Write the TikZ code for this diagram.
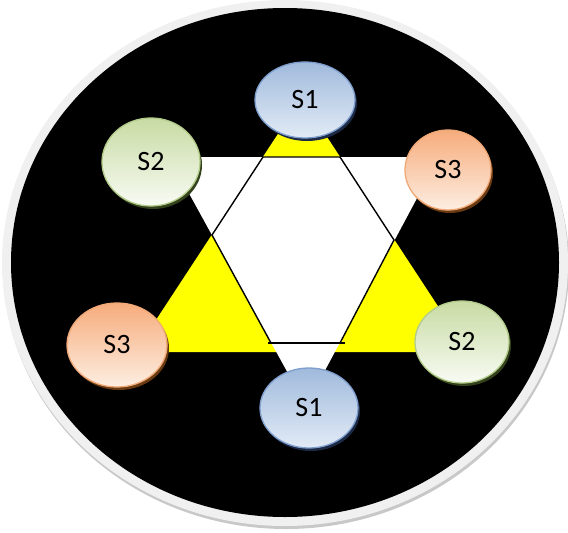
\documentclass[tikz,border=0pt]{standalone}
\usepackage{fontspec}
\setmainfont{Carlito}
\usepackage{tikz}
\usetikzlibrary{
  shapes.geometric,
  shadows
}
\definecolor{ringgray}{RGB}{240,240,240}
\definecolor{ringshade}{RGB}{200,200,200}
\definecolor{triyellow}{RGB}{255,255,0}
\definecolor{sonetop}{RGB}{160,186,220}
\definecolor{sonebot}{RGB}{226,235,246}
\definecolor{soneline}{RGB}{126,158,205}
\definecolor{sonedark}{RGB}{28,42,70}
\definecolor{stwotop}{RGB}{200,219,163}
\definecolor{stwobot}{RGB}{248,251,244}
\definecolor{stwoline}{RGB}{178,203,138}
\definecolor{stwodark}{RGB}{52,66,28}
\definecolor{sthreetop}{RGB}{246,172,124}
\definecolor{sthreebot}{RGB}{253,238,226}
\definecolor{sthreeline}{RGB}{240,168,118}
\definecolor{sthreedark}{RGB}{105,58,18}

\begin{document}
\begin{tikzpicture}[x=1pt,y=-1pt,
  site/.style ={ellipse,draw,line width=1.3pt,inner sep=0pt,shading angle=45,
                font=\fontsize{28}{32}\selectfont},
  sone/.style ={site,top color=sonetop,bottom color=sonebot,draw=soneline,
                drop shadow={shadow xshift=2pt,shadow yshift=-3pt,fill=sonedark,opacity=1}},
  stwo/.style ={site,top color=stwotop,bottom color=stwobot,draw=stwoline,
                drop shadow={shadow xshift=2pt,shadow yshift=-3pt,fill=stwodark,opacity=1}},
  sthree/.style={site,top color=sthreetop,bottom color=sthreebot,draw=sthreeline,
                drop shadow={shadow xshift=2pt,shadow yshift=-3pt,fill=sthreedark,opacity=1}},
  hexline/.style={line width=1.4pt},
]
\useasboundingbox (0,0) rectangle (568,533);

% disk with its ring
\fill[ringshade] (286,266) ellipse [x radius=283, y radius=263];
\fill[ringgray]  (285,263) ellipse [x radius=283, y radius=263];
\fill[black]     (285,262.5) ellipse [x radius=274, y radius=254.5];

% the two triangles
\fill[triyellow] (301.5,98) -- (135,352) -- (468,352) -- cycle;
\fill[white]     (169,157) -- (439,157) -- (306,406) -- cycle;

% inner hexagon
\coordinate (tl) at (263,157);
\coordinate (tr) at (340,157);
\coordinate (r)  at (394,240);
\coordinate (br) at (340,343);
\coordinate (bl) at (271,343);
\coordinate (l)  at (212,235);
\draw[hexline] (tl) -- (tr) -- (r) -- (br);
\draw[hexline] (tl) -- (l) -- (bl);
\draw[hexline,shorten <=-3pt,shorten >=-5pt] (bl) -- (br);

% sites
\node[sone,   minimum width=100pt,minimum height=76pt] (s1top)   at (305,100) {S1};
\node[stwo,   minimum width=98pt, minimum height=88pt] (s2left)  at (151,162) {S2};
\node[sthree, minimum width=86pt, minimum height=80pt] (s3right) at (448,170) {S3};
\node[sthree, minimum width=100pt,minimum height=84pt] (s3left)  at (117,345) {S3};
\node[stwo,   minimum width=94pt, minimum height=82pt] (s2right) at (462,342) {S2};
\node[sone,   minimum width=98pt, minimum height=80pt] (s1bot)   at (309,408) {S1};
\end{tikzpicture}
\end{document}
